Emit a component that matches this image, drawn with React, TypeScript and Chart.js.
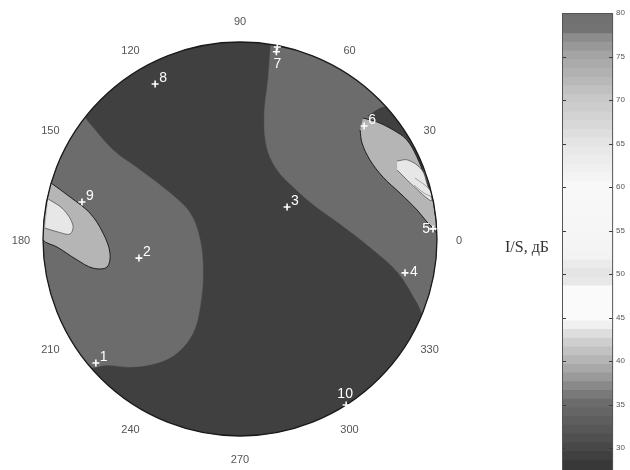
import React, { useEffect, useRef } from 'react';
import { Chart, registerables } from 'chart.js';

Chart.register(...registerables);

// ---------- data ----------
// polar angle tick labels (degrees)
const angleTicks = [0, 30, 60, 90, 120, 150, 180, 210, 240, 270, 300, 330];

// measurement points: name, angle (deg), normalised radius
const pointNames = ['1', '7', '8', '9', '3', '2', '1', '4', '5', '6', '10'];
const pointAngles = [79, 79, 118.7, 166.8, 34.2, 190.7, 220.7, 348.4, 3.0, 42.3, 302.6];
const pointRadii = [0.993, 0.968, 0.897, 0.824, 0.289, 0.522, 0.965, 0.855, 0.981, 0.852, 1.0];
const pointLabelSides = ['n', 's', 'ne', 'ne', 'ne', 'ne', 'ne', 'e', 'w', 'ne', 'n'];

// contour regions: [angle deg, radius] boundary points, and their I/S level (dB)
const baseLevel = 29;
const rightMidLevel = 35;
const rightMidBoundary = [[81, 1], [80, 0.82], [79, 0.65], [74, 0.49], [62, 0.4], [41, 0.38], [23, 0.42], [9, 0.51], [-3.5, 0.66], [-12, 0.82], [-20, 0.96], [-22, 1]];
const rightSliverLevel = 29;
const rightSliverBoundary = [[44, 0.9], [42, 1], [36, 1], [30, 1], [24, 1], [20, 0.99], [27, 0.975], [33, 0.95], [39, 0.925]];
const rightLightLevel = 40;
const rightLightBoundary = [[44.5, 0.876], [40.5, 0.915], [35.5, 0.954], [30.7, 0.985], [24.9, 0.99], [18.5, 0.99], [12.3, 0.998], [7.6, 0.999], [1.7, 1], [3.3, 0.981], [5.2, 0.953], [9.3, 0.911], [16.0, 0.845], [23.4, 0.791], [31.3, 0.772], [38.2, 0.788], [42.2, 0.823]];
const rightWhiteLevel = 43.5;
const rightWhiteBoundary = [[26.4, 0.89], [25.2, 0.942], [20.8, 0.988], [15.7, 0.99], [11.9, 0.995], [11.3, 0.988], [14.6, 0.944], [19.5, 0.899], [23.7, 0.871]];
const rightInnerBoundary = [[19.2, 0.941], [15.2, 0.989], [12.6, 0.999], [14.0, 0.963], [17.2, 0.925]];
const leftMidLevel = 35;
const leftMidBoundary = [[142, 1], [145, 0.787], [145.4, 0.617], [146.7, 0.425], [152.5, 0.286], [181.4, 0.203], [222.6, 0.255], [239.5, 0.4], [243.4, 0.533], [241.1, 0.661], [236.2, 0.757], [229.3, 0.857], [223.5, 0.93], [220.5, 1]];
const leftLightLevel = 40;
const leftLightBoundary = [[163.5, 1], [166.1, 0.889], [170.2, 0.773], [177.5, 0.696], [186.1, 0.664], [191.9, 0.69], [191.2, 0.761], [187.3, 0.834], [182.5, 0.93], [180.3, 1]];
const leftWhiteLevel = 43.5;
const leftWhiteBoundary = [[168.2, 0.995], [170.4, 0.911], [175.2, 0.851], [178.3, 0.863], [177.8, 0.925], [176.8, 0.991]];

// colour bar
const colorbarTicks = [30, 35, 40, 45, 50, 55, 60, 65, 70, 75, 80];
const colorbarMin = 27.5;
const colorbarMax = 80;
const colorbarTitle = 'I/S, дБ';

// grey colormap (printed jet) stops: value -> grey level
const cmapValues = [27.5, 29, 31, 33, 35, 36.5, 38, 39, 40.5, 42, 43, 44, 45, 48, 49, 50.5, 51.5, 55, 60, 62, 65, 67, 70, 72, 75, 77, 77.8, 80];
const cmapGrays = [0x34, 0x40, 0x50, 0x5e, 0x6c, 0x80, 0x9a, 0xa8, 0xbc, 0xcf, 0xde, 0xf0, 0xfa, 0xfa, 0xe8, 0xe4, 0xf2, 0xf6, 0xf8, 0xf0, 0xe4, 0xd8, 0xc8, 0xb8, 0xa4, 0x8c, 0x74, 0x6e];

// ---------- helpers ----------
const CX = 240, CY = 239, R = 197, W = 555, H = 470;

function gray(v: number): string {
  let g = cmapGrays[0];
  if (v >= cmapValues[cmapValues.length - 1]) g = cmapGrays[cmapGrays.length - 1];
  else {
    for (let i = 0; i < cmapValues.length - 1; i++) {
      if (v >= cmapValues[i] && v <= cmapValues[i + 1]) {
        const t = (v - cmapValues[i]) / (cmapValues[i + 1] - cmapValues[i]);
        g = cmapGrays[i] + (cmapGrays[i + 1] - cmapGrays[i]) * t;
        break;
      }
    }
  }
  const n = Math.round(g);
  return `rgb(${n},${n},${n})`;
}

function toXY(p: number[]) {
  const a = (p[0] * Math.PI) / 180;
  return { x: p[1] * Math.cos(a), y: p[1] * Math.sin(a) };
}

// points along the unit circle (domain edge) strictly between two angles
function edgeArc(from: number, to: number): number[][] {
  const out: number[][] = [];
  const n = Math.max(2, Math.ceil(Math.abs(to - from) / 4));
  for (let i = 1; i < n; i++) out.push([from + ((to - from) * i) / n, 1]);
  return out;
}

function regionDataset(points: number[][], level: number, order: number, border?: string, bw?: number) {
  return {
    type: 'scatter' as const,
    data: points.map(toXY),
    showLine: true,
    fill: 'shape',
    backgroundColor: gray(level),
    borderColor: border || gray(level),
    borderWidth: bw ?? 0.6,
    pointRadius: 0,
    tension: 0.35,
    order,
  };
}

export default function App() {
  const mainRef = useRef<HTMLCanvasElement>(null);
  const cbRef = useRef<HTMLCanvasElement>(null);

  useEffect(() => {
    const markerIndex = 0;
    const rightMid = [...rightMidBoundary, ...edgeArc(-22, 81)];
    const leftMid = [...leftMidBoundary, ...edgeArc(220.5, 142)];
    const leftLight = [...leftLightBoundary, ...edgeArc(180.3, 163.5)];

    const datasets: any[] = [
      {
        type: 'scatter',
        data: pointAngles.map((a, i) => toXY([a, pointRadii[i]])),
        pointStyle: 'cross',
        pointRadius: 3.5,
        borderColor: '#ffffff',
        backgroundColor: '#ffffff',
        borderWidth: 1.6,
        showLine: false,
        order: 0,
      },
      regionDataset(leftWhiteBoundary, leftWhiteLevel, 1, '#555', 0.8),
      regionDataset(leftLight, leftLightLevel, 2, '#1e1e1e', 1),
      regionDataset(leftMid, leftMidLevel, 3),
      regionDataset(rightInnerBoundary, rightWhiteLevel, 4, '#8a8a8a', 0.8),
      regionDataset(rightWhiteBoundary, rightWhiteLevel, 5, '#555', 0.8),
      regionDataset(rightLightBoundary, rightLightLevel, 6, '#1e1e1e', 1),
      regionDataset(rightSliverBoundary, rightSliverLevel, 7),
      regionDataset(rightMid, rightMidLevel, 8),
    ];

    const discPlugin = {
      id: 'disc',
      beforeDatasetsDraw(chart: any) {
        const { ctx, scales } = chart;
        const cx = scales.x.getPixelForValue(0);
        const cy = scales.y.getPixelForValue(0);
        const r = scales.x.getPixelForValue(1) - cx;
        ctx.save();
        ctx.beginPath();
        ctx.arc(cx, cy, r, 0, Math.PI * 2);
        ctx.fillStyle = gray(baseLevel);
        ctx.fill();
        ctx.clip();
        chart.$discClipped = true;
      },
      beforeDatasetDraw(chart: any, args: any) {
        if (args.index === markerIndex && chart.$discClipped) {
          const { ctx, scales } = chart;
          ctx.restore();
          chart.$discClipped = false;
          const cx = scales.x.getPixelForValue(0);
          const cy = scales.y.getPixelForValue(0);
          const r = scales.x.getPixelForValue(1) - cx;
          ctx.save();
          ctx.beginPath();
          ctx.arc(cx, cy, r, 0, Math.PI * 2);
          ctx.strokeStyle = '#1a1a1a';
          ctx.lineWidth = 1.3;
          ctx.stroke();
          ctx.restore();
        }
      },
      afterDatasetsDraw(chart: any) {
        const { ctx, scales } = chart;
        if (chart.$discClipped) {
          ctx.restore();
          chart.$discClipped = false;
        }
        const cx = scales.x.getPixelForValue(0);
        const cy = scales.y.getPixelForValue(0);
        const r = scales.x.getPixelForValue(1) - cx;
        // angle labels
        ctx.save();
        ctx.font = '11px "Liberation Sans", Arial, sans-serif';
        ctx.fillStyle = '#555';
        ctx.textAlign = 'center';
        ctx.textBaseline = 'middle';
        angleTicks.forEach((a) => {
          const rad = (a * Math.PI) / 180;
          const d = r + 22;
          ctx.fillText(String(a), cx + d * Math.cos(rad), cy - d * Math.sin(rad) + 1.5);
        });
        ctx.restore();
        // point labels
        const meta = chart.getDatasetMeta(markerIndex);
        ctx.save();
        ctx.font = '14px "Liberation Sans", Arial, sans-serif';
        ctx.fillStyle = '#ffffff';
        ctx.textBaseline = 'alphabetic';
        meta.data.forEach((el: any, i: number) => {
          const side = pointLabelSides[i];
          const name = pointNames[i];
          let tx = el.x, ty = el.y;
          if (side === 'ne') { ctx.textAlign = 'left'; tx += 4; ty -= 2; }
          else if (side === 'e') { ctx.textAlign = 'left'; tx += 5; ty += 3; }
          else if (side === 'n') { ctx.textAlign = 'center'; tx -= 1; ty -= 7; }
          else if (side === 's') { ctx.textAlign = 'center'; tx += 1; ty += 16; }
          else if (side === 'w') { ctx.textAlign = 'right'; tx -= 3; ty += 4; }
          ctx.fillText(name, tx, ty);
        });
        ctx.restore();
      },
    };

    const main = new Chart(mainRef.current as HTMLCanvasElement, {
      type: 'scatter',
      data: { datasets },
      options: {
        responsive: false,
        animation: false,
        events: [],
        layout: { padding: 0, autoPadding: false },
        plugins: { legend: { display: false }, tooltip: { enabled: false } },
        scales: {
          x: { type: 'linear', display: false, min: -CX / R, max: (W - CX) / R },
          y: { type: 'linear', display: false, min: -(H - CY) / R, max: CY / R },
        },
      },
      plugins: [discPlugin],
    } as any);

    // colour bar bands
    const bands: any[] = [];
    for (let lo = colorbarMin; lo < colorbarMax; lo += 1) {
      const hi = Math.min(lo + 1, colorbarMax);
      bands.push({
        data: [[lo, Math.min(hi + 0.15, colorbarMax)]],
        backgroundColor: gray((lo + hi) / 2),
        borderWidth: 0,
        grouped: false,
        barPercentage: 1,
        categoryPercentage: 1,
      });
    }

    const cbPlugin = {
      id: 'cbframe',
      afterDatasetsDraw(chart: any) {
        const { ctx, chartArea, scales } = chart;
        ctx.save();
        ctx.strokeStyle = '#3a3a3a';
        ctx.lineWidth = 1;
        colorbarTicks.forEach((v) => {
          if (v === colorbarMax) return;
          const yy = Math.round(scales.y.getPixelForValue(v)) + 0.5;
          ctx.beginPath();
          ctx.moveTo(chartArea.left, yy);
          ctx.lineTo(chartArea.left + 4, yy);
          ctx.moveTo(chartArea.right - 4, yy);
          ctx.lineTo(chartArea.right, yy);
          ctx.stroke();
        });
        ctx.strokeStyle = '#555';
        ctx.strokeRect(chartArea.left + 0.5, chartArea.top + 0.5, chartArea.right - chartArea.left - 1, chartArea.bottom - chartArea.top + 2);
        ctx.restore();
      },
    };

    const cb = new Chart(cbRef.current as HTMLCanvasElement, {
      type: 'bar',
      data: { labels: ['cb'], datasets: bands },
      options: {
        responsive: false,
        animation: false,
        events: [],
        layout: { padding: { left: 7, top: 13, right: 2, bottom: 0 }, autoPadding: false },
        plugins: { legend: { display: false }, tooltip: { enabled: false } },
        scales: {
          x: { display: false },
          y: {
            type: 'linear',
            position: 'right',
            min: colorbarMin,
            max: colorbarMax,
            afterBuildTicks: (s: any) => {
              s.ticks = colorbarTicks.map((v) => ({ value: v }));
            },
            afterFit: (s: any) => {
              s.paddingTop = 0;
              s.paddingBottom = 0;
            },
            grid: { display: false, drawTicks: false },
            border: { display: false },
            ticks: {
              padding: 3,
              color: '#555',
              font: { size: 8, family: '"Liberation Sans", Arial, sans-serif' },
            },
          },
        },
      },
      plugins: [cbPlugin],
    } as any);

    return () => {
      main.destroy();
      cb.destroy();
    };
  }, []);

  return (
    <div style={{ position: 'fixed', left: 0, top: 0, width: 630, height: 470, background: '#fff', overflow: 'hidden' }}>
      <canvas ref={mainRef} width={W} height={H} style={{ position: 'absolute', left: 0, top: 0 }} />
      <canvas ref={cbRef} width={75} height={470} style={{ position: 'absolute', left: 555, top: 0 }} />
      <div
        style={{
          position: 'absolute',
          left: 505,
          top: 238,
          font: '16px "Liberation Serif", "DejaVu Serif", serif',
          lineHeight: '18px',
          color: '#333',
          whiteSpace: 'nowrap',
        }}
      >
        {colorbarTitle}
      </div>
    </div>
  );
}
